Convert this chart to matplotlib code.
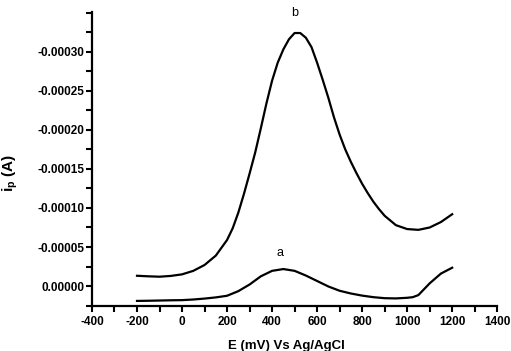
import matplotlib
matplotlib.use('Agg')
import matplotlib.pyplot as plt
import numpy as np
from matplotlib.ticker import MultipleLocator, FuncFormatter

plt.rcParams.update({
    'font.family': 'Liberation Sans',
    'font.weight': 'bold',
    'axes.unicode_minus': False,
    'mathtext.fontset': 'custom',
    'mathtext.rm': 'Liberation Sans:bold',
    'mathtext.bf': 'Liberation Sans:bold',
})

# curve a: potential (mV vs Ag/AgCl) and peak current in units of 1e-5 A
E_a = [-200, -150, -100, -50, 0, 50, 100, 150, 200, 250, 300, 350, 400, 450, 500,
       550, 600, 650, 700, 750, 800, 850, 900, 950, 1000, 1025, 1050, 1075, 1100,
       1150, 1200]
curve_a = [1.9, 1.88, 1.85, 1.82, 1.8, 1.72, 1.6, 1.45, 1.24, 0.65, -0.2, -1.25,
           -1.95, -2.18, -1.95, -1.35, -0.65, 0.05, 0.6, 0.95, 1.22, 1.42, 1.55,
           1.58, 1.5, 1.42, 1.15, 0.4, -0.35, -1.6, -2.35]

# curve b (denser readings around the big peak)
E_b = [-200, -150, -100, -50, 0, 50, 100, 150, 200, 225, 250, 275, 300, 325, 350,
       375, 400, 425, 450, 475, 500, 525, 550, 575, 600, 625, 650, 675, 700, 725,
       750, 775, 800, 825, 850, 875, 900, 950, 1000, 1050, 1100, 1150, 1200]
curve_b = [-1.32, -1.25, -1.2, -1.3, -1.5, -1.95, -2.7, -3.9, -5.9, -7.4, -9.4,
           -11.8, -14.4, -17.1, -20.2, -23.4, -26.3, -28.6, -30.3, -31.6, -32.4,
           -32.4, -31.8, -30.6, -28.6, -26.4, -24.1, -21.6, -19.4, -17.5,
           -15.9, -14.45, -13.1, -11.9, -10.8, -9.85, -9.0, -7.8, -7.3, -7.2,
           -7.5, -8.2, -9.2]

labels = ['a', 'b']
label_pos = [(436, -3.5e-5), (502, -3.42e-4)]


def ytick_fmt(v, pos):
    if v < -3.45e-4:
        return ''
    return '%.5f' % v


fig = plt.figure(figsize=(5.11, 3.51), dpi=100)
ax = fig.add_axes([0.180, 0.128, 0.793, 0.838])

ax.plot(E_a, np.array(curve_a) * 1e-5, color='black', lw=1.6)
ax.plot(E_b, np.array(curve_b) * 1e-5, color='black', lw=1.6)

for lab, (x, y) in zip(labels, label_pos):
    ax.text(x, y, lab, ha='center', va='bottom', fontsize=9, fontweight='normal')

ax.set_xlim(-400, 1400)
ax.set_ylim(2.56e-5, -3.51e-4)
ax.xaxis.set_major_locator(MultipleLocator(200))
ax.xaxis.set_minor_locator(MultipleLocator(100))
ax.yaxis.set_major_locator(MultipleLocator(5e-5))
ax.yaxis.set_minor_locator(MultipleLocator(2.5e-5))
ax.yaxis.set_major_formatter(FuncFormatter(ytick_fmt))

for s in ('top', 'right'):
    ax.spines[s].set_visible(False)
for s in ('left', 'bottom'):
    ax.spines[s].set_linewidth(1.6)

ax.tick_params(which='both', direction='out', width=1.5, labelsize=8.5)
ax.tick_params(which='major', length=4.5)
ax.tick_params(which='minor', length=4)
ax.tick_params(axis='y', pad=1)
ax.tick_params(axis='x', pad=3)

ax.set_xlabel('E (mV) Vs Ag/AgCl', fontsize=9.5, fontweight='bold')
ax.set_ylabel(r'i$_{\mathrm{p}}$ (A)', fontsize=11, fontweight='bold')
ax.xaxis.set_label_coords(0.479, -0.116)
ax.yaxis.set_label_coords(-0.178, 0.452)

fig.savefig('out.png', dpi=100)
